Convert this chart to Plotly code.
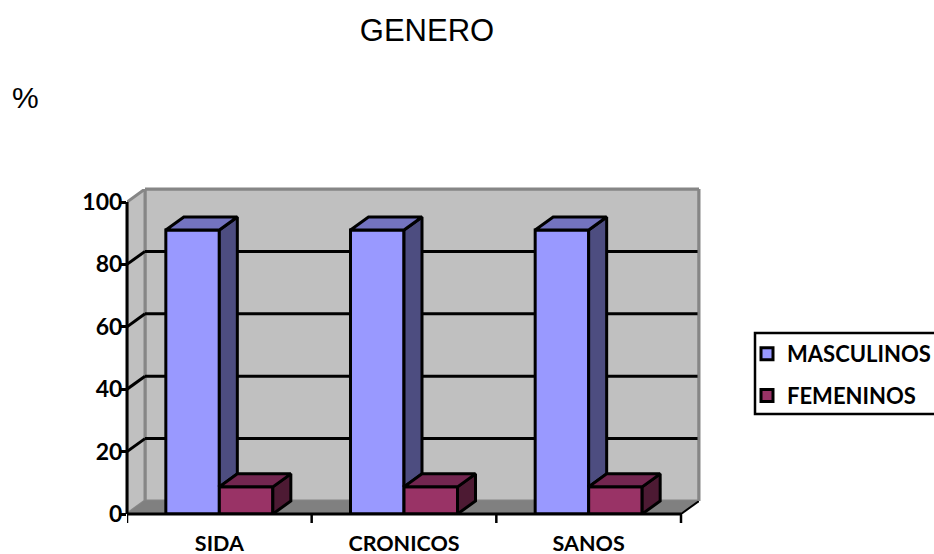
import plotly.graph_objects as go

categories = ["SIDA", "CRONICOS", "SANOS"]
masculinos = [91, 91, 91]
femeninos = [8.7, 8.7, 8.7]
y_ticks = [0, 20, 40, 60, 80, 100]

BLUE, BLUE_TOP, BLUE_SIDE = "#9999FF", "#7373BF", "#4D4D80"
RED, RED_TOP, RED_SIDE = "#993366", "#732650", "#4D1A33"
WALL, FLOOR, EDGE = "#C0C0C0", "#808080", "#868686"

L, R, B, T = 127, 681, 514, 202
DX_PX, DY_PX = 18, 13
W, H = 934, 554
px_x = (R - L) / 3
px_y = (B - T) / 100
dx = DX_PX / px_x
dy = DY_PX / px_y
bar_w = 53.5 / px_x
x0, x1 = -0.5, 2.5
ymax = y_ticks[-1]
xs = list(range(len(categories)))
LW = 3

fig = go.Figure()
fig.add_bar(name="MASCULINOS", x=[i - bar_w / 2 for i in xs], y=masculinos, width=bar_w, legendgroup="m",
            marker=dict(color=BLUE, line=dict(color="black", width=LW)))
fig.add_bar(name="FEMENINOS", x=[i + bar_w / 2 for i in xs], y=femeninos, width=bar_w, legendgroup="f",
            marker=dict(color=RED, line=dict(color="black", width=LW)))


def face(px, py, color):
    fig.add_scatter(x=px + px[:1], y=py + py[:1], mode="lines", fill="toself", fillcolor=color,
                    line=dict(color="black", width=LW), showlegend=False, hoverinfo="skip")


for i, m, f in zip(xs, masculinos, femeninos):
    a, b, c = i - bar_w, i, i + bar_w
    face([b, b + dx, b + dx, b], [m, m + dy, f + dy, f], BLUE_SIDE)
    face([a, a + dx, b + dx, b], [m, m + dy, m + dy, m], BLUE_TOP)
    face([c, c + dx, c + dx, c], [f, f + dy, dy, 0], RED_SIDE)
    face([b, b + dx, c + dx, c], [f, f + dy, f + dy, f], RED_TOP)

shapes = []


def poly(px, py, fill, line=None, w=0):
    path = "M " + " L ".join(f"{p},{q}" for p, q in zip(px, py)) + " Z"
    shapes.append(dict(type="path", path=path, xref="x", yref="y", fillcolor=fill, layer="below",
                       line=dict(color=line or fill, width=w)))


def seg(xa, ya, xb, yb, color="black", w=LW):
    shapes.append(dict(type="line", x0=xa, y0=ya, x1=xb, y1=yb, xref="x", yref="y", layer="below",
                       line=dict(color=color, width=w)))


poly([x0 + dx, x1 + dx, x1 + dx, x0 + dx], [dy, dy, ymax + dy, ymax + dy], WALL, EDGE, 3)
poly([x0, x0 + dx, x0 + dx, x0], [0, dy, ymax + dy, ymax], WALL, EDGE, 3)
poly([x0, x0 + dx, x1 + dx, x1], [0, dy, dy, 0], FLOOR, FLOOR, 1)
for t in y_ticks[1:-1]:
    seg(x0, t, x0 + dx, t + dy)
    seg(x0 + dx, t + dy, x1 + dx, t + dy)
seg(x1, 0, x1 + dx, dy, w=2)
plot_h = B - T + DY_PX
plot_w = R + DX_PX - L
for t in [x0, x0 + 1, x0 + 2, x1]:
    shapes.append(dict(type="line", xref="x", yref="paper", x0=t, x1=t, y0=0, y1=-9 / plot_h,
                       line=dict(color="black", width=2.5)))
shapes.append(dict(type="line", xref="paper", yref="paper", x0=1, x1=1, y0=DY_PX / plot_h, y1=1,
                   line=dict(color=EDGE, width=3)))
shapes.append(dict(type="line", xref="paper", yref="paper", x0=DX_PX / plot_w, x1=1, y0=1, y1=1,
                   line=dict(color=EDGE, width=3)))
shapes.append(dict(type="line", xref="paper", yref="paper", x0=0, x1=0, y0=0, y1=(B - T) / plot_h,
                   line=dict(color="black", width=LW)))
shapes.append(dict(type="line", xref="paper", yref="paper", x0=0, x1=(R - L) / plot_w, y0=0, y1=0,
                   line=dict(color="black", width=LW)))
# legend frame: runs off the right edge of the page, as in the reference
shapes.append(dict(type="rect", xref="paper", yref="paper", x0=(755 - L) / plot_w, x1=(940 - L) / plot_w,
                   y0=(B - 414) / plot_h, y1=(B - 333) / plot_h, line=dict(color="black", width=2.5)))

fig.update_layout(
    width=W, height=H, autosize=False,
    margin=dict(l=L, r=W - R - DX_PX, t=T - DY_PX, b=H - B),
    paper_bgcolor="white", plot_bgcolor="white",
    barmode="overlay", shapes=shapes,
    font=dict(family="Lato", color="black"),
    title=dict(text="GENERO", x=427 / W, xanchor="center", y=1 - 30 / H, yanchor="middle", automargin=False,
               font=dict(family="Liberation Sans", size=31)),
    annotations=[dict(text="%", xref="paper", yref="paper", showarrow=False, xanchor="left", yanchor="middle",
                      x=(10 - L) / plot_w, y=(B - 98) / plot_h,
                      font=dict(family="Liberation Sans", size=30))],
    xaxis=dict(range=[x0, x1 + dx], tickvals=xs, ticktext=categories, showgrid=False, zeroline=False,
               automargin=False, ticks="", ticklabelstandoff=14,
               tickfont=dict(size=21.5, family="Lato", weight="bold")),
    yaxis=dict(range=[0, ymax + dy], tickvals=y_ticks, showgrid=False, zeroline=False,
               automargin=False, ticks="outside", ticklen=7, tickwidth=2.5, tickcolor="black",
               ticklabelstandoff=-8,
               tickfont=dict(size=23, family="Lato", weight="bold")),
    legend=dict(xref="container", yref="container", x=747 / W, xanchor="left", y=1 - 333 / H, yanchor="top",
                borderwidth=0, bgcolor="rgba(0,0,0,0)", traceorder="grouped",
                font=dict(size=22, family="Lato", weight="bold"), itemwidth=30, tracegroupgap=10),
)
fig.write_html("out.html", config=dict(displayModeBar=False),
               post_script="document.body.style.margin='0';document.body.style.overflow='hidden';")
